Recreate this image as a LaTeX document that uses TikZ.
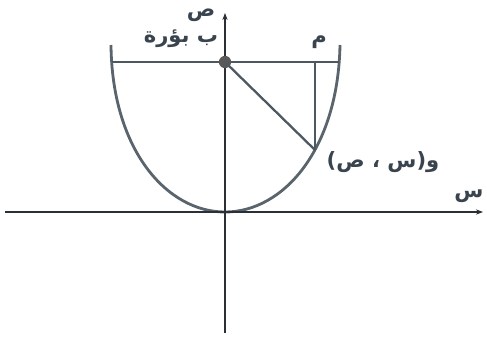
\documentclass[tikz,border=0pt]{standalone}
\usepackage{fontspec}
\usepackage{xcolor}
\usepackage{tikz}
\usetikzlibrary{arrows.meta,positioning,calc}
\TeXXeTstate=1
\newfontfamily\arabicfont[Script=Arabic]{DejaVu Sans}
\definecolor{axisdark}{HTML}{2B3036}
\definecolor{linegray}{HTML}{4E5860}
\definecolor{curvegray}{HTML}{5A646C}
\definecolor{labelgray}{HTML}{3A444E}

\begin{document}
\begin{tikzpicture}[
    x=0.02cm, y=-0.02cm,
    >={Stealth[length=4pt,width=3pt]},
    axis/.style={->, line width=1.1pt, draw=axisdark},
    curve/.style={line width=1.6pt, draw=curvegray},
    chord/.style={line width=1.3pt, draw=linegray},
    lbl/.style={font=\arabicfont\bfseries\fontsize{12}{14}\selectfont,
        text=labelgray, inner sep=1pt},
    focusdot/.style={circle, fill=gray!70!black, inner sep=0pt, minimum size=7pt}
]

% Stable crop.
\path[use as bounding box] (0,0) rectangle (487,338);

% --------------------------------------------------
% Key points
% --------------------------------------------------
\coordinate (vertex) at (225,212);
\coordinate (leftTop) at (111,45);
\coordinate (rightTop) at (340,45);
\coordinate (leftEnd) at (112,62);
\coordinate (rightEnd) at (339,62);
\coordinate (wpt) at (315,150);
\coordinate (mpt) at (315,62);

% Axes
\coordinate (xstart) at (5,212);
\coordinate (xend) at (483,212);
\coordinate (ystart) at (225,333);
\coordinate (yend) at (225,13);

% --------------------------------------------------
% Parabola and segments
% --------------------------------------------------
\draw[curve] (leftTop) .. controls (112,150) and (167,212) .. (vertex)
    .. controls (283,212) and (338,150) .. (rightTop);

\draw[chord] (leftEnd) -- (rightEnd);
\draw[axis] (xstart) -- (xend);
\draw[axis] (ystart) -- (yend);

\node[focusdot] (focus) at (225,62) {};
\draw[chord] (focus.center) -- (wpt);
\draw[chord] (wpt) -- (mpt);

% --------------------------------------------------
% Labels
% --------------------------------------------------
\node[lbl] (ylbl) at (201,15) {\beginR ص\endR};
\node[lbl] (flbl) at (181,39) {\beginR ب بؤرة\endR};
\node[lbl] (mlbl) at (319,42) {\beginR م\endR};
\node[lbl] (wlbl) at (383,162) {\beginR و(س ، ص)\endR};
\node[lbl] (xlbl) at (469,196) {\beginR س\endR};

\end{tikzpicture}
\end{document}
